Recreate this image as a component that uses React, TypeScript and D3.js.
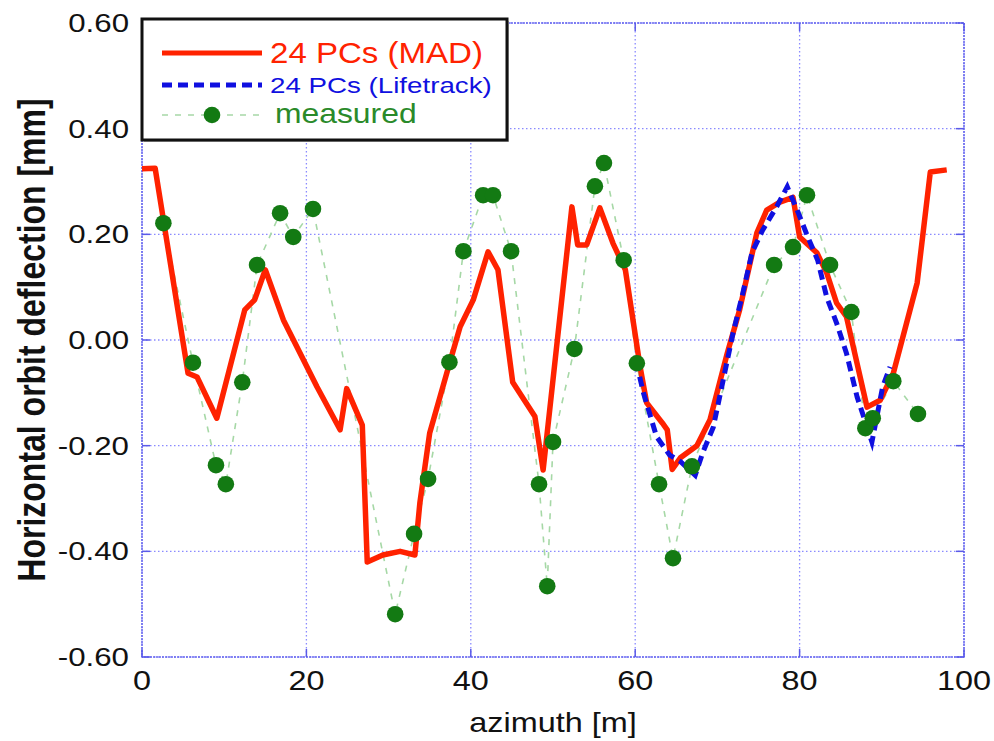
import React from "react";
import * as d3 from "d3";

const madX = [0, 1.6, 5.6, 6.7, 9.1, 12.5, 13.7, 15.0, 17.2, 21.3, 24.1, 24.9, 26.8, 27.4, 29.3, 31.4, 33.2, 33.8, 35.0, 37.4, 38.7, 40.3, 42.1, 43.3, 45.1, 47.8, 48.8, 52.3, 53.0, 54.1, 55.7, 57.3, 58.8, 60.6, 61.4, 63.3, 63.9, 64.5, 65.5, 67.5, 69.1, 71.2, 72.7, 74.8, 76.0, 77.6, 79.2, 80.0, 82.1, 83.3, 84.5, 85.7, 88.2, 89.8, 91.4, 94.3, 95.9, 97.9];
const madY = [0.324, 0.325, -0.063, -0.07, -0.148, 0.057, 0.076, 0.133, 0.038, -0.089, -0.170, -0.092, -0.161, -0.42, -0.407, -0.40, -0.407, -0.309, -0.176, -0.045, 0.025, 0.076, 0.167, 0.133, -0.08, -0.145, -0.246, 0.252, 0.18, 0.18, 0.25, 0.183, 0.133, -0.051, -0.119, -0.157, -0.17, -0.245, -0.223, -0.200, -0.151, -0.025, 0.057, 0.203, 0.246, 0.261, 0.27, 0.195, 0.165, 0.127, 0.07, 0.044, -0.127, -0.114, -0.063, 0.108, 0.318, 0.322];

const lifeX = [60.1, 61.0, 62.6, 64.2, 65.5, 67.3, 68.2, 69.5, 70.7, 71.9, 73.1, 74.2, 75.5, 77.2, 78.5, 79.7, 81.0, 82.2, 83.3, 84.5, 85.7, 87.0, 88.8, 90.1, 91.0];
const lifeY = [-0.04, -0.1, -0.183, -0.218, -0.23, -0.256, -0.214, -0.165, -0.076, 0.013, 0.089, 0.165, 0.208, 0.252, 0.29, 0.246, 0.195, 0.151, 0.081, 0.032, -0.025, -0.108, -0.193, -0.089, -0.051];

const measX = [2.6, 6.2, 9.0, 10.2, 12.2, 14.0, 16.8, 18.4, 20.8, 30.8, 33.1, 34.8, 37.4, 39.1, 41.5, 42.7, 44.9, 48.3, 49.3, 50.0, 52.6, 55.1, 56.2, 58.6, 60.2, 62.9, 64.6, 66.9, 76.9, 79.2, 80.9, 83.7, 86.3, 88.0, 88.9, 91.4, 94.4];
const measY = [0.221, -0.043, -0.237, -0.273, -0.08, 0.142, 0.24, 0.195, 0.248, -0.519, -0.367, -0.263, -0.042, 0.168, 0.274, 0.274, 0.168, -0.273, -0.466, -0.193, -0.017, 0.291, 0.335, 0.151, -0.044, -0.273, -0.413, -0.239, 0.142, 0.176, 0.274, 0.142, 0.053, -0.167, -0.148, -0.078, -0.140];

const xTicks = [0, 20, 40, 60, 80, 100];
const yTicks = [-0.6, -0.4, -0.2, 0, 0.2, 0.4, 0.6];

const legendLabels = ["24 PCs (MAD)", "24 PCs (Lifetrack)", "measured"];
const xTitle = "azimuth [m]";
const yTitle = "Horizontal orbit deflection [mm]";

const FONT = "'Liberation Sans', Arial, Helvetica, sans-serif";
const RED = "#ff2200";
const BLUE = "#1010e0";
const GREEN = "#137a13";
const LGREEN = "#a6d8a6";
const GRID = "#8a8aff";

export default function App() {
  const L = 142, R = 964, T = 23, B = 657;
  const x = d3.scaleLinear().domain([0, 100]).range([L, R]);
  const y = d3.scaleLinear().domain([-0.6, 0.6]).range([B, T]);

  const line = d3.line<[number, number]>().x(d => x(d[0])).y(d => y(d[1]));
  const mad = line(madX.map((v, i) => [v, madY[i]]))!;
  const life = line(lifeX.map((v, i) => [v, lifeY[i]]))!;
  const meas = line(measX.map((v, i) => [v, measY[i]]))!;

  const lx0 = 162, lx1 = 262;

  return (
    <svg width={994} height={741} style={{ position: "absolute", left: 0, top: 0, background: "#fff" }} fontFamily={FONT}>
      <rect x={0} y={0} width={994} height={741} fill="#fff" />
      {/* grid */}
      {xTicks.map(t => (
        <line key={"gx" + t} x1={x(t)} x2={x(t)} y1={T} y2={B} stroke={GRID} strokeWidth={1.3} strokeDasharray="1.5,2.5" />
      ))}
      {yTicks.map(t => (
        <line key={"gy" + t} x1={L} x2={R} y1={y(t)} y2={y(t)} stroke={GRID} strokeWidth={1.3} strokeDasharray="1.5,2.5" />
      ))}
      {/* frame */}
      <rect x={L} y={T} width={R - L} height={B - T} fill="none" stroke="#6a6aee" strokeWidth={1.6} strokeDasharray="2,1" />
      {/* ticks */}
      {xTicks.map(t => (
        <g key={"tx" + t}>
          <line x1={x(t)} x2={x(t)} y1={B} y2={B - 8} stroke="#5a5ae8" strokeWidth={1.5} />
          <line x1={x(t)} x2={x(t)} y1={T} y2={T + 8} stroke="#5a5ae8" strokeWidth={1.5} />
        </g>
      ))}
      {yTicks.map(t => (
        <g key={"ty" + t}>
          <line x1={L} x2={L + 8} y1={y(t)} y2={y(t)} stroke="#5a5ae8" strokeWidth={1.5} />
          <line x1={R} x2={R - 8} y1={y(t)} y2={y(t)} stroke="#5a5ae8" strokeWidth={1.5} />
        </g>
      ))}
      {/* series */}
      <path d={meas} fill="none" stroke={LGREEN} strokeWidth={1.6} strokeDasharray="6,7" />
      <path d={mad} fill="none" stroke={RED} strokeWidth={5.5} strokeLinejoin="round" />
      <path d={life} fill="none" stroke={BLUE} strokeWidth={5} strokeDasharray="10,6" />
      {measX.map((v, i) => (
        <circle key={"m" + i} cx={x(v)} cy={y(measY[i])} r={8.3} fill={GREEN} />
      ))}
      {/* tick labels */}
      {xTicks.map(t => (
        <text key={"lx" + t} transform={`translate(${x(t)},690) scale(1.2,1)`} textAnchor="middle" fontSize={27} fill="#111">{t}</text>
      ))}
      {yTicks.map(t => (
        <text key={"ly" + t} transform={`translate(129,${y(t) + 9}) scale(1.25,1)`} textAnchor="end" fontSize={25} fill="#111">{t.toFixed(2)}</text>
      ))}
      {/* axis titles */}
      <text transform="translate(553,732) scale(1.2,1)" textAnchor="middle" fontSize={27} fill="#111">{xTitle}</text>
      <text transform="translate(45,340) rotate(-90) scale(1,1.2)" textAnchor="middle" fontSize={32} fontWeight="bold" fill="#111">{yTitle}</text>
      {/* legend */}
      <rect x={144} y={21} width={365} height={121} fill="#bbb" />
      <rect x={142} y={19} width={365} height={121} fill="#fff" stroke="#111" strokeWidth={3} />
      <line x1={lx0} x2={lx1} y1={53} y2={53} stroke={RED} strokeWidth={5} />
      <text transform="translate(270,63) scale(1.14,1)" fontSize={29} fill={RED}>{legendLabels[0]}</text>
      <line x1={lx0} x2={lx1} y1={85} y2={85} stroke={BLUE} strokeWidth={5} strokeDasharray="10,6" />
      <text transform="translate(270,93) scale(1.26,1)" fontSize={22} fill={BLUE}>{legendLabels[1]}</text>
      <line x1={lx0} x2={lx1} y1={115} y2={115} stroke={LGREEN} strokeWidth={1.6} strokeDasharray="6,7" />
      <circle cx={212} cy={115} r={8.3} fill={GREEN} />
      <text transform="translate(275,123) scale(1.18,1)" fontSize={27} fill="#2a8a2a">{legendLabels[2]}</text>
    </svg>
  );
}
